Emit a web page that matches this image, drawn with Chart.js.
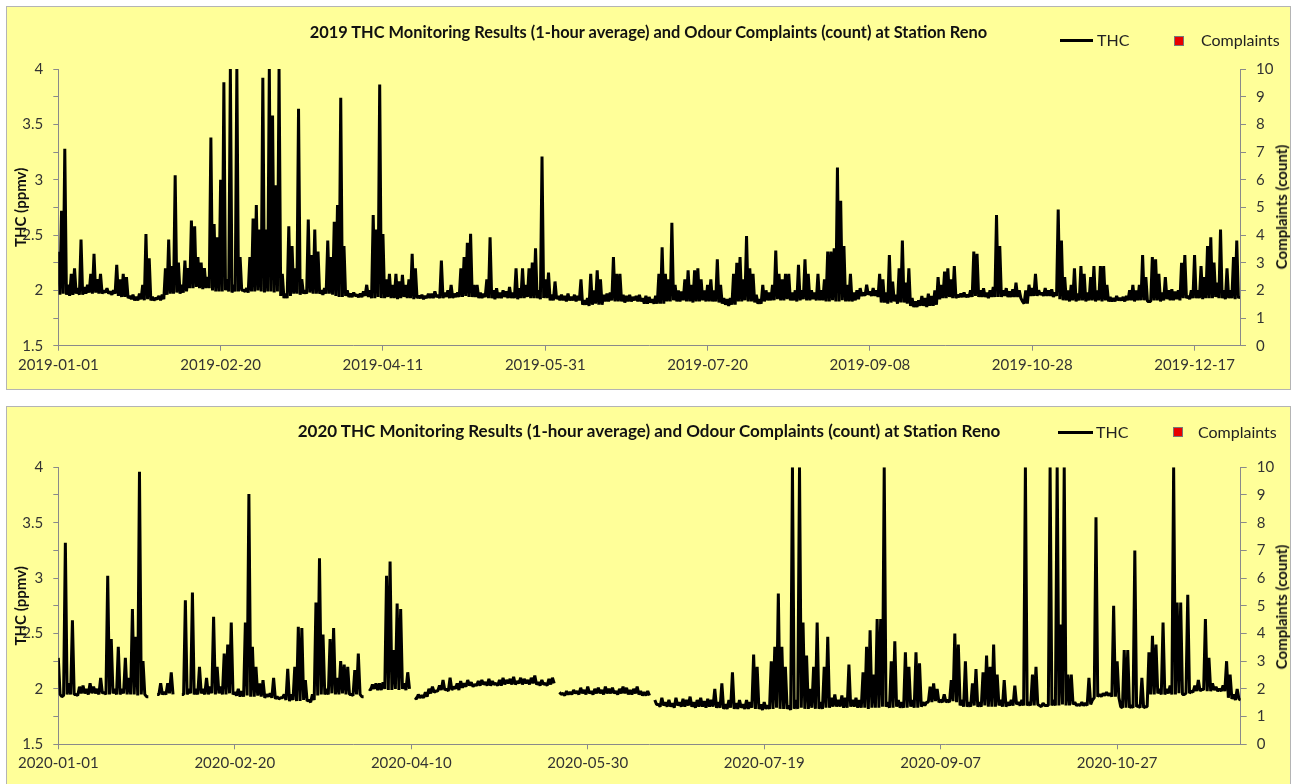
<!DOCTYPE html>
<html>
<head>
<meta charset="utf-8">
<script src="https://cdn.jsdelivr.net/npm/chart.js@4.4.1/dist/chart.umd.min.js"></script>
<style>
html,body{margin:0;padding:0;background:#fff;width:1292px;height:784px;overflow:hidden;font-family:Lato,sans-serif;}
.panel{position:absolute;left:6px;width:1285px;height:384px;border:1px solid #b4b4b4;box-sizing:border-box;background:#ffff99;}
.panel canvas{position:absolute;left:0;top:0;}
.title{position:absolute;font-weight:bold;font-family:Lato;line-height:18px;color:#111;white-space:nowrap;transform:translateX(-50%);}
.leg-line{position:absolute;height:3px;background:#000;}
.leg-text{position:absolute;font:16px Lato;line-height:18px;color:#222;white-space:nowrap;}
.leg-sq{position:absolute;width:8px;height:8px;background:#e80000;border:1px solid #777;}
.rtitle{position:absolute;font:bold 15px Lato;line-height:18px;color:#111;white-space:nowrap;transform:translate(-50%,-50%) rotate(-90deg);}
</style>
</head>
<body>
<div class="panel" id="p1" style="top:6px;">
  <canvas id="c1" width="1283" height="382"></canvas>
  <div class="title" id="t1" style="left:641.5px;top:16px;font-size:16.4px;"></div>
  <div class="leg-line" style="left:1053px;top:31.5px;width:33px;"></div>
  <div class="leg-text" style="left:1090px;top:24px;">THC</div>
  <div class="leg-sq" style="left:1167px;top:29px;"></div>
  <div class="leg-text" style="left:1194px;top:24px;">Complaints</div>
  <div class="rtitle" style="left:1274px;top:200px;">Complaints (count)</div>
</div>
<div class="panel" id="p2" style="top:406px;">
  <canvas id="c2" width="1283" height="382"></canvas>
  <div class="title" id="t2" style="left:642px;top:15px;font-size:17px;"></div>
  <div class="leg-line" style="left:1051px;top:23.5px;width:35px;"></div>
  <div class="leg-text" style="left:1089px;top:16px;">THC</div>
  <div class="leg-sq" style="left:1166px;top:20px;"></div>
  <div class="leg-text" style="left:1191px;top:16px;">Complaints</div>
  <div class="rtitle" style="left:1274px;top:199.5px;">Complaints (count)</div>
</div>
<script>
// ---------------- DATA ----------------
const title2019 = '2019 THC Monitoring Results (1-hour average) and Odour Complaints (count) at Station Reno';
const title2020 = '2020 THC Monitoring Results (1-hour average) and Odour Complaints (count) at Station Reno';
const start2019 = '2019-01-01';
const start2020 = '2020-01-01';
const lastDay2019 = 364;
const lastDay2020 = 335;
const xTicks2019 = ['2019-01-01','2019-02-20','2019-04-11','2019-05-31','2019-07-20','2019-09-08','2019-10-28','2019-12-17'];
const xTicks2020 = ['2020-01-01','2020-02-20','2020-04-10','2020-05-30','2020-07-19','2020-09-07','2020-10-27'];
const thcTickLabels = ['1.5','2','2.5','3','3.5','4'];
const complaintTickLabels = ['0','1','2','3','4','5','6','7','8','9','10'];

// THC (ppmv): daily high reading, one per day from the year start
const thcHigh2019 = [
2.35,2.72,3.28,2.05,2.15,2.2,2.02,2.46,2.03,2.05,
2.15,2.33,2.1,2.15,2.0,2.02,1.99,2.0,2.23,2.1,
2.15,2.12,1.95,1.96,1.94,1.97,2.05,2.51,2.29,1.94,
1.93,1.95,1.96,2.2,2.46,2.22,3.04,2.25,2.05,2.27,
2.2,2.63,2.58,2.3,2.25,2.2,2.12,3.38,2.6,2.48,
3.0,3.88,2.1,4.0,2.05,4.0,2.3,2.0,2.02,2.3,
2.65,2.77,2.55,3.92,2.55,4.0,3.58,2.95,4.0,2.15,
1.97,2.58,2.4,2.2,3.64,2.1,2.0,2.64,2.32,2.55,
2.35,2.0,2.02,2.45,2.3,2.62,2.77,3.74,2.4,2.0,
1.97,1.98,1.96,1.97,1.99,2.05,2.0,2.68,2.55,3.86,
2.51,2.1,2.15,2.05,2.15,2.08,2.14,2.05,2.1,2.33,
2.2,1.95,1.96,1.95,1.97,1.97,1.99,1.96,2.27,1.98,
2.0,2.05,1.97,1.98,2.2,2.3,2.43,2.51,2.05,2.05,
1.98,1.97,2.1,2.48,2.0,2.02,1.98,2.0,1.99,2.03,
1.98,2.2,2.02,2.2,2.05,2.2,2.25,2.38,2.0,3.21,
2.1,2.16,1.96,2.08,1.95,1.96,1.95,1.97,1.94,1.96,
1.95,2.1,1.91,1.93,2.15,2.0,2.18,2.1,1.96,1.97,
1.98,2.3,2.15,2.15,1.96,1.95,1.96,1.94,1.95,1.96,
1.93,1.95,1.94,1.92,1.95,2.15,2.39,2.15,2.1,2.61,
2.05,2.0,1.99,2.1,2.18,2.05,2.18,2.2,2.1,2.0,
2.05,2.1,2.0,2.28,2.05,1.93,1.92,1.93,2.15,2.25,
2.3,2.1,2.49,2.2,2.15,1.96,1.92,2.05,2.0,1.98,
2.05,2.36,2.15,2.1,2.15,2.15,1.98,2.0,2.23,2.0,
2.28,2.15,2.0,1.98,2.15,2.0,2.1,2.35,2.35,2.38,
3.11,2.81,2.4,2.05,2.15,1.98,2.0,2.02,1.98,2.05,
1.99,2.02,2.0,2.15,2.1,1.98,2.32,2.08,1.96,2.2,
2.45,2.07,2.2,1.93,1.9,1.91,1.95,1.93,1.97,1.95,
2.0,2.12,2.05,2.17,2.2,2.1,2.22,1.96,1.97,1.98,
1.96,2.0,2.35,2.33,2.0,2.02,1.98,2.0,2.03,2.68,
2.4,2.0,2.02,1.99,2.01,2.07,2.0,1.9,2.0,2.05,
2.02,2.15,2.0,1.98,2.02,2.0,2.01,1.98,2.73,2.45,
2.12,2.0,2.05,2.2,1.97,2.22,2.15,1.98,2.12,2.22,
2.0,2.22,2.22,2.05,1.94,1.93,1.95,1.93,1.94,1.95,
2.0,2.05,2.0,2.05,2.32,2.12,1.9,2.3,2.28,2.15,
1.98,2.12,2.0,2.01,1.99,2.0,2.25,2.32,1.95,2.0,
2.32,2.0,2.22,2.12,2.4,2.48,2.25,2.07,2.55,2.0,
2.2,2.0,2.3,2.45,1.95
];
// THC (ppmv): daily low reading (bottom of the hourly band)
const thcLow2019 = [
1.96,1.97,1.96,1.95,1.96,1.97,1.96,1.96,1.97,1.98,
1.97,1.98,1.97,1.97,1.98,1.97,1.96,1.97,1.95,1.94,
1.94,1.93,1.92,1.91,1.91,1.92,1.91,1.92,1.91,1.91,
1.92,1.91,1.92,1.96,1.97,1.97,1.98,1.97,1.98,1.99,
2.02,2.02,2.03,2.02,2.01,2.02,2.02,2.0,1.99,1.99,
1.99,2.0,1.99,1.98,1.99,1.99,2.0,1.99,1.98,1.99,
1.99,2.0,1.99,1.98,1.99,1.99,1.98,1.99,1.95,1.93,
1.93,1.95,1.97,1.97,1.96,1.97,1.97,1.98,1.97,1.97,
1.97,1.96,1.97,1.97,1.96,1.95,1.94,1.94,1.95,1.94,
1.94,1.95,1.94,1.94,1.95,1.94,1.93,1.93,1.94,1.93,
1.93,1.94,1.93,1.93,1.92,1.93,1.94,1.93,1.93,1.92,
1.93,1.93,1.92,1.93,1.93,1.93,1.94,1.93,1.93,1.94,
1.93,1.93,1.94,1.94,1.94,1.95,1.94,1.94,1.94,1.93,
1.93,1.94,1.93,1.93,1.92,1.93,1.93,1.94,1.93,1.93,
1.93,1.92,1.93,1.93,1.94,1.93,1.93,1.93,1.92,1.93,
1.93,1.91,1.91,1.92,1.91,1.91,1.9,1.91,1.91,1.9,
1.91,1.87,1.87,1.86,1.87,1.88,1.87,1.87,1.9,1.9,
1.91,1.9,1.9,1.9,1.89,1.9,1.9,1.91,1.9,1.9,
1.88,1.88,1.89,1.88,1.88,1.88,1.88,1.9,1.9,1.91,
1.9,1.9,1.91,1.9,1.9,1.89,1.9,1.9,1.91,1.9,
1.9,1.9,1.9,1.89,1.88,1.87,1.86,1.87,1.87,1.9,
1.9,1.91,1.9,1.9,1.89,1.88,1.88,1.9,1.91,1.91,
1.91,1.92,1.91,1.91,1.92,1.91,1.91,1.9,1.91,1.92,
1.91,1.91,1.92,1.91,1.91,1.91,1.9,1.9,1.91,1.9,
1.9,1.91,1.9,1.9,1.9,1.91,1.92,1.95,1.95,1.96,
1.95,1.95,1.94,1.89,1.89,1.88,1.89,1.9,1.88,1.89,
1.89,1.88,1.86,1.85,1.85,1.86,1.86,1.85,1.86,1.86,
1.87,1.92,1.93,1.93,1.94,1.93,1.93,1.94,1.94,1.94,
1.94,1.94,1.95,1.94,1.94,1.94,1.93,1.94,1.94,1.94,
1.94,1.95,1.94,1.94,1.94,1.94,1.93,1.88,1.88,1.95,
1.95,1.95,1.96,1.95,1.95,1.95,1.94,1.95,1.92,1.91,
1.91,1.9,1.91,1.9,1.91,1.91,1.9,1.91,1.91,1.9,
1.91,1.9,1.91,1.9,1.9,1.9,1.91,1.91,1.9,1.91,
1.91,1.9,1.91,1.91,1.91,1.9,1.9,1.91,1.91,1.9,
1.91,1.92,1.91,1.91,1.92,1.91,1.93,1.93,1.92,1.93,
1.93,1.93,1.92,1.93,1.93,1.93,1.94,1.93,1.93,1.92,
1.93,1.93,1.92,1.93,1.92
];
const thcHigh2020 = [
2.28,1.93,3.32,2.05,2.62,1.95,2.02,2.03,2.0,2.05,
2.02,2.0,2.1,1.97,3.02,2.45,2.0,2.38,2.0,2.28,
2.1,2.72,2.47,3.96,2.25,1.93,null,null,1.95,2.05,
1.97,2.05,2.15,null,null,1.95,2.8,2.0,2.87,2.0,
2.2,2.0,2.1,2.02,2.65,2.2,2.02,2.32,2.4,2.6,
1.97,2.0,1.98,2.6,3.76,2.38,2.2,2.05,2.08,1.95,
1.96,2.1,1.93,1.92,1.95,2.18,1.95,2.2,2.56,2.55,
2.08,1.9,1.95,2.78,3.18,2.49,2.0,2.45,2.55,2.1,
2.25,2.22,2.2,1.95,2.17,2.32,1.93,null,2.0,2.04,
2.05,2.05,2.06,3.02,3.15,2.35,2.77,2.72,2.05,2.15,
null,1.92,1.95,1.94,1.97,2.0,2.02,1.98,2.03,2.08,
2.0,2.1,2.02,2.05,2.07,2.05,2.08,2.06,2.04,2.07,
2.08,2.06,2.09,2.07,2.05,2.08,2.1,2.08,2.09,2.11,
2.07,2.1,2.09,2.08,2.1,2.12,2.06,2.08,2.05,2.09,
2.1,null,1.97,1.96,1.98,1.97,1.99,1.98,2.01,1.99,
2.02,1.98,2.0,2.01,1.99,2.02,2.0,2.01,1.98,2.0,
2.02,2.01,1.99,2.0,2.02,1.98,1.97,1.98,null,1.9,
1.86,1.92,1.88,1.9,1.87,1.92,1.88,1.91,1.9,1.93,
1.88,1.9,1.92,1.89,1.91,1.9,2.0,1.88,2.05,1.86,
1.9,2.15,1.87,1.9,1.86,1.9,1.88,2.31,2.2,1.86,
1.88,1.85,2.25,2.38,2.86,2.38,2.2,1.85,4.0,1.9,
4.0,2.6,2.3,2.0,2.2,2.6,1.88,2.2,2.47,1.92,
1.95,1.9,1.94,1.92,2.22,1.9,1.92,1.9,2.15,2.38,
2.53,2.13,2.63,2.63,4.0,1.88,2.25,2.43,1.9,1.88,
2.33,2.2,1.9,2.33,2.23,1.88,1.88,2.02,2.05,2.0,
1.9,1.95,1.9,2.08,2.5,2.4,1.9,2.25,1.88,2.05,
2.18,1.88,2.15,2.3,2.2,2.4,2.13,1.9,2.08,1.88,
1.9,2.03,1.88,1.9,4.0,1.88,2.13,2.2,1.85,1.87,
1.85,4.0,1.9,4.0,2.58,4.0,2.13,2.13,1.88,1.86,
1.88,1.87,2.1,1.9,3.55,1.95,1.96,1.97,1.96,2.75,
2.25,1.84,2.35,2.35,1.85,3.25,1.85,2.1,1.84,2.33,
2.48,2.4,2.0,2.6,2.0,2.03,4.0,2.78,2.78,1.95,
2.85,1.98,2.03,2.08,2.0,2.63,2.28,2.05,2.02,2.0,
2.03,2.25,2.13,1.95,2.0,1.9
];
const thcLow2020 = [
1.95,1.94,1.95,1.95,1.95,1.94,1.96,1.96,1.95,1.96,
1.96,1.95,1.96,1.95,1.95,1.96,1.95,1.95,1.96,1.95,
1.95,1.95,1.94,1.95,1.95,1.93,null,null,1.95,1.95,
1.95,1.96,1.95,null,null,1.95,1.95,1.96,1.95,1.95,
1.96,1.95,1.95,1.96,1.95,1.96,1.95,1.95,1.96,1.95,
1.94,1.93,1.93,1.94,1.93,1.93,1.94,1.93,1.92,1.93,
1.92,1.91,1.91,1.92,1.9,1.89,1.9,1.89,1.89,1.9,
1.89,1.88,1.9,1.94,1.95,1.95,1.95,1.96,1.95,1.95,
1.96,1.95,1.95,1.94,1.95,1.95,1.93,null,1.99,2.0,
1.99,1.99,2.0,1.99,1.99,2.0,1.99,2.0,1.99,2.0,
null,1.91,1.92,1.92,1.93,1.96,1.97,1.98,1.99,1.99,
1.98,1.99,2.0,1.99,2.01,2.02,2.03,2.02,2.03,2.03,
2.04,2.03,2.03,2.04,2.03,2.03,2.04,2.05,2.04,2.04,
2.05,2.04,2.05,2.04,2.05,2.04,2.03,2.04,2.03,2.04,
2.05,null,1.95,1.94,1.95,1.95,1.96,1.95,1.96,1.95,
1.96,1.95,1.96,1.96,1.95,1.96,1.96,1.96,1.95,1.96,
1.96,1.95,1.95,1.96,1.95,1.94,1.94,1.94,null,1.86,
1.84,1.85,1.84,1.84,1.83,1.85,1.84,1.84,1.85,1.84,
1.83,1.84,1.84,1.83,1.84,1.84,1.83,1.83,1.82,1.82,
1.83,1.82,1.82,1.83,1.82,1.82,1.83,1.82,1.82,1.81,
1.82,1.82,1.82,1.83,1.82,1.82,1.82,1.81,1.82,1.82,
1.83,1.82,1.82,1.83,1.82,1.82,1.82,1.83,1.83,1.84,
1.84,1.84,1.83,1.83,1.84,1.84,1.83,1.83,1.83,1.82,
1.83,1.83,1.83,1.84,1.84,1.83,1.83,1.84,1.83,1.83,
1.83,1.84,1.83,1.83,1.84,1.85,1.88,1.88,1.89,1.88,
1.88,1.88,1.88,1.89,1.88,1.85,1.84,1.84,1.84,1.85,
1.84,1.84,1.85,1.84,1.84,1.84,1.85,1.84,1.84,1.85,
1.85,1.86,1.85,1.85,1.85,1.85,1.85,1.86,1.84,1.85,
1.85,1.85,1.85,1.85,1.86,1.85,1.85,1.86,1.85,1.85,
1.85,1.85,1.86,1.92,1.93,1.93,1.94,1.94,1.93,1.93,
1.92,1.83,1.83,1.83,1.83,1.84,1.83,1.83,1.84,1.95,
1.95,1.96,1.95,1.95,1.96,1.95,1.95,1.96,1.95,1.96,
1.96,1.97,1.98,1.98,1.99,1.98,1.98,1.99,1.98,1.98,
1.98,1.92,1.91,1.9,1.91,1.9
];
// Odour complaints: none are plotted in either year
const complaintDates2019 = [];
const complaintCounts2019 = [];
const complaintDates2020 = [];
const complaintCounts2020 = [];

// ---------------- BUILD ----------------
const FONT = 'Lato';
const TICK_COLOR = '#333';
const AXIS_COLOR = '#8a8a8a';
function dayOf(dateStr, start){ return Math.round((Date.parse(dateStr) - Date.parse(start)) / 86400000); }

function makeChart(id, title, titleId, start, highs, lows, lastDay, xTickLabels, cDates, cCounts, dims){
  document.getElementById(titleId).textContent = title;
  const tickDays = xTickLabels.map(d => dayOf(d, start));
  const labelByDay = {}; xTickLabels.forEach((d,i) => labelByDay[tickDays[i]] = d);
  // each day: the high reading, then the low reading half a day later
  const thcPoints = [];
  highs.forEach((h,i) => { thcPoints.push({x:i, y:h}); thcPoints.push({x:i+0.5, y:lows[i]}); });
  const cPoints = cDates.map((d,i) => ({x:dayOf(d,start), y:cCounts[i]}));
  return new Chart(document.getElementById(id), {
    type:'line',
    data:{datasets:[
      {label:'THC', data:thcPoints, yAxisID:'y', borderColor:'#000', backgroundColor:'#000', borderWidth:3,
       pointRadius:0, tension:0, spanGaps:false, borderJoinStyle:'bevel', order:2},
      {label:'Complaints', data:cPoints, yAxisID:'y1', showLine:false, pointStyle:'rect', pointRadius:5,
       backgroundColor:'#e80000', borderColor:'#777', borderWidth:1, order:1}
    ]},
    options:{
      responsive:false, animation:false, devicePixelRatio:1,
      layout:{padding:{top:dims.top, left:0, right:0, bottom:0}},
      plugins:{legend:{display:false}, title:{display:false}, tooltip:{enabled:false}},
      scales:{
        x:{type:'linear', min:0, max:lastDay,
           afterBuildTicks:s => { s.ticks = tickDays.map(v => ({value:v})); },
           afterFit:s => { s.height = dims.xh; },
           ticks:{autoSkip:false, maxRotation:0, padding:5, color:TICK_COLOR, font:{family:FONT, size:15},
                  callback:v => labelByDay[v] || ''},
           grid:{drawOnChartArea:false, drawTicks:true, tickLength:5, color:AXIS_COLOR},
           border:{color:AXIS_COLOR, width:1}},
        y:{type:'linear', position:'left', min:1.5, max:4,
           afterBuildTicks:s => { const t=[]; for(let k=0;k<=10;k++) t.push({value:1.5+k*0.25}); s.ticks=t; },
           afterFit:s => { s.width = dims.yl; },
           ticks:{autoSkip:false, padding:10, color:TICK_COLOR, font:{family:FONT, size:15},
                  callback:v => { const i = Math.round((v-1.5)/0.5); return Math.abs(v-1.5-i*0.5) < 1e-6 ? thcTickLabels[i] : ''; }},
           grid:{drawOnChartArea:false, drawTicks:true, tickLength:5, color:AXIS_COLOR},
           border:{color:AXIS_COLOR, width:1},
           title:{display:true, text:'THC (ppmv)', color:'#111', font:{family:FONT, size:15, weight:'bold'}, padding:{top:5,bottom:0}}},
        y1:{type:'linear', position:'right', min:0, max:10,
           afterBuildTicks:s => { s.ticks = complaintTickLabels.map((l,i) => ({value:i})); },
           afterFit:s => { s.width = dims.yr; },
           ticks:{autoSkip:false, padding:10, color:TICK_COLOR, font:{family:FONT, size:15},
                  callback:v => complaintTickLabels[v]},
           grid:{drawOnChartArea:false, drawTicks:true, tickLength:6, color:AXIS_COLOR},
           border:{color:AXIS_COLOR, width:1}}
      }
    }
  });
}

makeChart('c1', title2019, 't1', start2019, thcHigh2019, thcLow2019, lastDay2019, xTicks2019, complaintDates2019, complaintCounts2019,
          {top:62, xh:43.3, yl:51.3, yr:50});
makeChart('c2', title2020, 't2', start2020, thcHigh2020, thcLow2020, lastDay2020, xTicks2020, complaintDates2020, complaintCounts2020,
          {top:60.3, xh:44.7, yl:51.3, yr:49.3});
</script>
</body>
</html>
